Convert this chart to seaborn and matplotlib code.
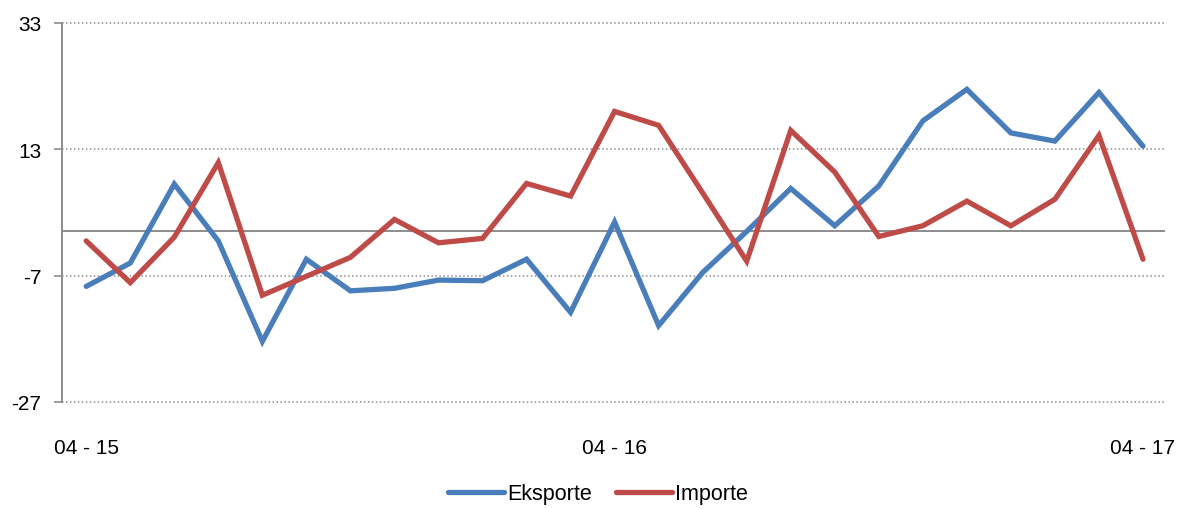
import matplotlib
matplotlib.use("Agg")
import matplotlib.pyplot as plt
import seaborn as sns
import pandas as pd

months = list(range(25))
tick_positions = [0, 12, 24]
tick_labels = ["04 - 15", "04 - 16", "04 - 17"]
eksporte = [-8.7, -5.0, 7.5, -1.5, -17.4, -4.4, -9.4, -9.0, -7.7, -7.8, -4.4, -12.8,
            1.5, -14.9, -6.5, 0.0, 6.8, 0.9, 7.2, 17.5, 22.5, 15.6, 14.3, 22.0, 13.5]
importe = [-1.5, -8.1, -0.9, 10.9, -10.1, -7.1, -4.1, 1.9, -1.8, -1.1, 7.6, 5.6,
           19.0, 16.8, 6.1, -4.7, 16.0, 9.4, -0.8, 0.9, 4.8, 0.9, 5.1, 15.2, -4.4]
series_names = ["Eksporte", "Importe"]
colors = ["#4A7EBB", "#BE4B48"]
yticks = [-27, -7, 13, 33]

df = pd.DataFrame({
    "x": months * 2,
    "value": eksporte + importe,
    "series": [series_names[0]] * 25 + [series_names[1]] * 25,
})

sns.set_style("white")
plt.rcParams["font.family"] = ["Liberation Sans", "DejaVu Sans"]
plt.rcParams["text.color"] = "black"

W, H = 1179, 510
fig = plt.figure(figsize=(W / 100, H / 100), dpi=100)
ax = fig.add_axes([62 / W, (H - 403) / H, (1165 - 62) / W, (403 - 24) / H])

ax.axhline(0, color="#8C8C8C", lw=1.4, zorder=1)
for y in yticks:
    ax.axhline(y, color="#8C8C8C", lw=1.1, ls=(0, (1, 1.6)), zorder=0, clip_on=False)

sns.lineplot(data=df, x="x", y="value", hue="series", hue_order=series_names,
             palette=colors, linewidth=3.8, ax=ax, legend=False, zorder=3,
             solid_capstyle="round", solid_joinstyle="miter")

ax.set_xlim(-0.55, 24.5)
ax.set_ylim(-27, 33)
ax.set_yticks(yticks)
ax.set_yticklabels([str(v) for v in yticks], fontsize=15, color="black")
ax.set_xticks(tick_positions)
ax.set_xticklabels(tick_labels, fontsize=15, color="black")
ax.set_xlabel("")
ax.set_ylabel("")
for s in ["top", "right", "bottom"]:
    ax.spines[s].set_visible(False)
ax.spines["left"].set_color("#8C8C8C")
ax.spines["left"].set_linewidth(1.4)
ax.tick_params(axis="y", length=6, width=1.2, color="#8C8C8C", pad=9, left=True,
               direction="out")
ax.tick_params(axis="x", length=0, pad=26)

from matplotlib.lines import Line2D
handles = [Line2D([], [], color=c, lw=3.8, solid_capstyle="round") for c in colors]
leg = fig.legend(handles, series_names, loc="center", bbox_to_anchor=(0.507, 0.03),
                 ncol=2, frameon=False, fontsize=15.5, handlelength=2.6,
                 handletextpad=0.15, columnspacing=1.1, borderpad=0.1)
for t in leg.get_texts():
    t.set_color("black")

fig.savefig("out.png", dpi=100)
